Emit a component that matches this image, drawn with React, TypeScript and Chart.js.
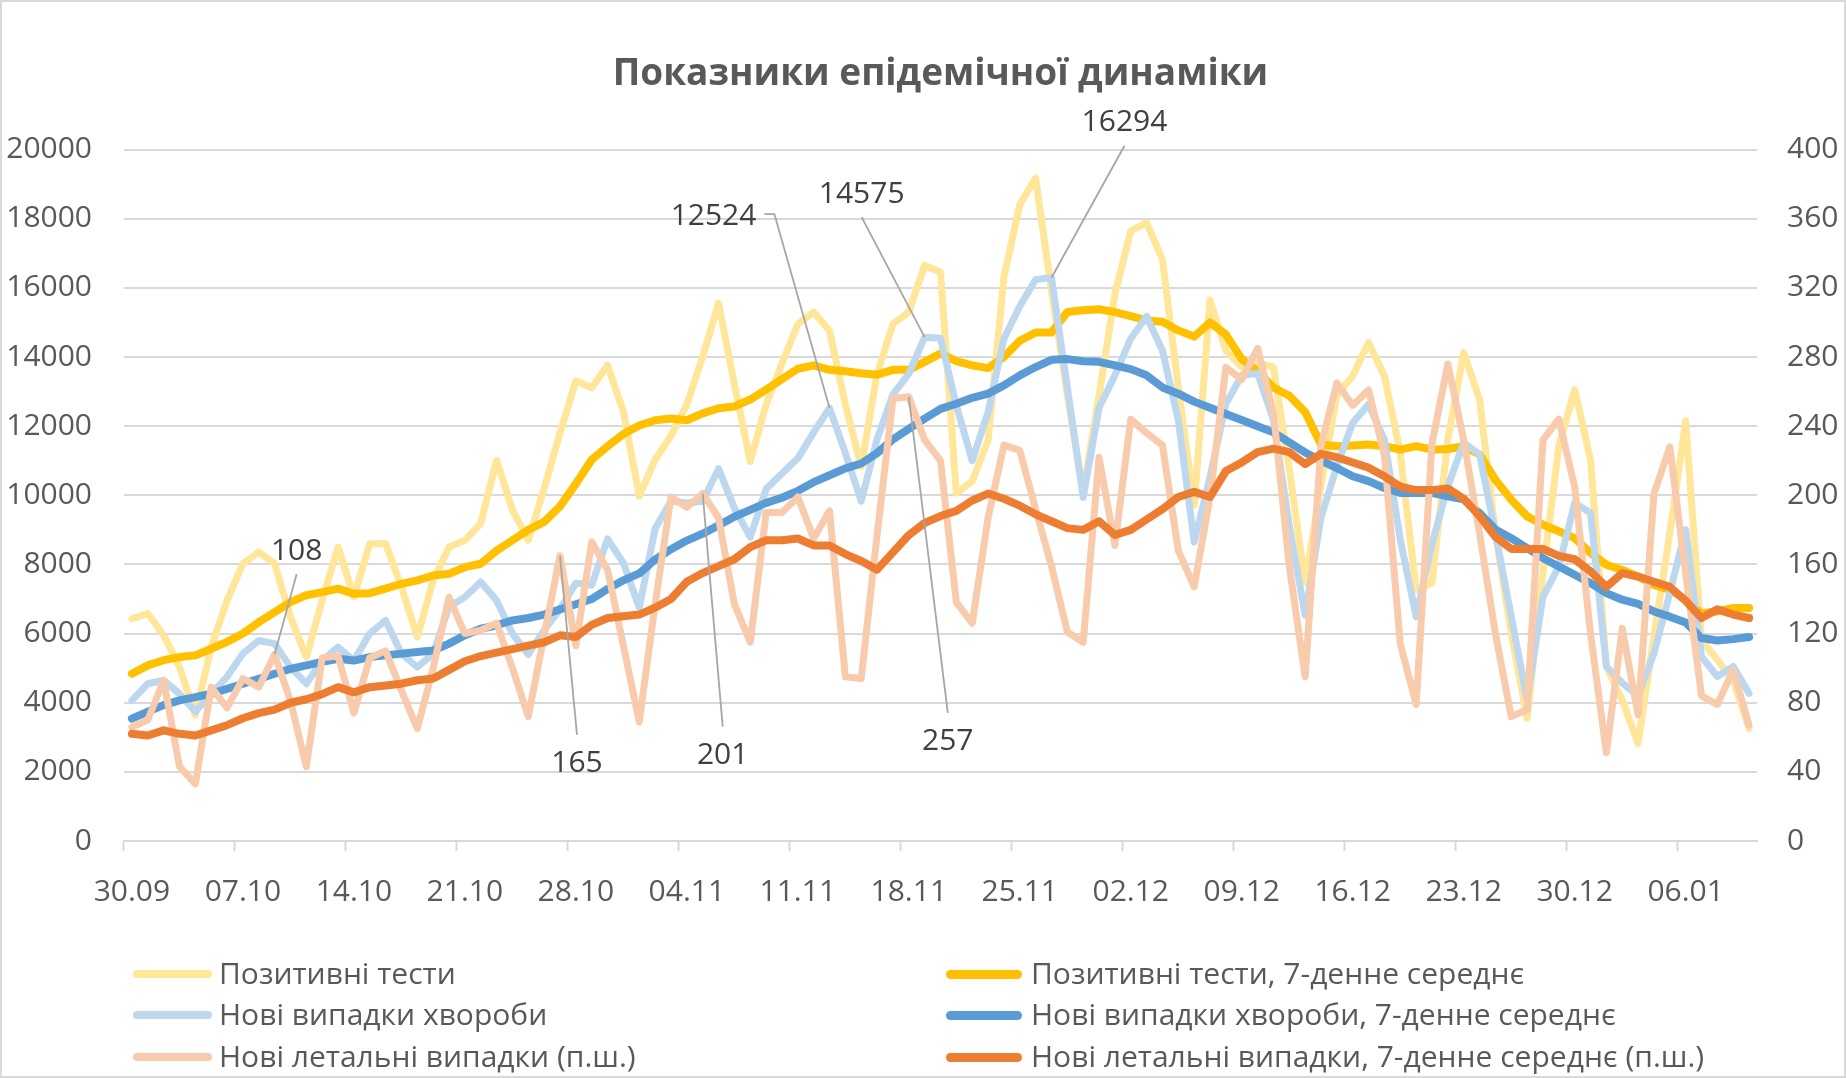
import React, { useEffect, useRef } from 'react';
import { Chart, registerables } from 'chart.js';

Chart.register(...registerables);

const FONT = '"Open Sans", "Noto Sans", "DejaVu Sans", sans-serif';
const TEXT_COLOR = '#595959';
const GRID_COLOR = '#D9D9D9';

const chartTitle = 'Показники епідемічної динаміки';

const dates = [
  '30.09',
  '01.10', '02.10', '03.10', '04.10', '05.10', '06.10', '07.10', '08.10', '09.10', '10.10',
  '11.10', '12.10', '13.10', '14.10', '15.10', '16.10', '17.10', '18.10', '19.10', '20.10',
  '21.10', '22.10', '23.10', '24.10', '25.10', '26.10', '27.10', '28.10', '29.10', '30.10', '31.10',
  '01.11', '02.11', '03.11', '04.11', '05.11', '06.11', '07.11', '08.11', '09.11', '10.11',
  '11.11', '12.11', '13.11', '14.11', '15.11', '16.11', '17.11', '18.11', '19.11', '20.11',
  '21.11', '22.11', '23.11', '24.11', '25.11', '26.11', '27.11', '28.11', '29.11', '30.11',
  '01.12', '02.12', '03.12', '04.12', '05.12', '06.12', '07.12', '08.12', '09.12', '10.12',
  '11.12', '12.12', '13.12', '14.12', '15.12', '16.12', '17.12', '18.12', '19.12', '20.12',
  '21.12', '22.12', '23.12', '24.12', '25.12', '26.12', '27.12', '28.12', '29.12', '30.12', '31.12',
  '01.01', '02.01', '03.01', '04.01', '05.01', '06.01', '07.01', '08.01', '09.01', '10.01',
];

// Позитивні тести (left axis)
const positiveTests = [
  6430, 6580, 5950, 5030, 3640, 5600, 6960, 8020, 8360, 8020,
  6480, 5320, 6960, 8500, 7060, 8600, 8600, 7350, 5900, 7540,
  8500, 8700, 9180, 11010, 9570, 8700, 10200, 11800, 13310, 13110,
  13760, 12420, 9980, 11030, 11720, 12620, 14010, 15550, 13210, 10980,
  12620, 13810, 14955, 15300, 14760, 12620, 10830, 13510, 14955, 15300,
  16650, 16450, 10060, 10410, 11590, 16300, 18410, 19180, 15900, 12900,
  10100, 12880, 15820, 17650, 17880, 16820, 13120, 9710, 15650, 14180,
  13710, 13830, 13710, 10770, 7470, 10300, 12900, 13450, 14420, 13450,
  11230, 7270, 7460, 11610, 14130, 12770, 8910, 6010, 3550, 7750,
  11420, 13060, 11030, 5050, 4080, 2820, 5910, 8910, 12150, 5820,
  5240, 4660, 3260,
];

// Позитивні тести, 7-денне середнє (left axis)
const positiveTests7d = [
  4840, 5080, 5230, 5320, 5370, 5560, 5760, 6000, 6330, 6620,
  6910, 7110, 7200, 7300, 7150, 7170, 7300, 7440, 7540, 7680,
  7730, 7920, 8020, 8400, 8700, 9000, 9230, 9680, 10330, 11030,
  11420, 11770, 12020, 12170, 12220, 12170, 12370, 12520, 12570, 12770,
  13060, 13360, 13660, 13760, 13630, 13590, 13530, 13490, 13630, 13630,
  13860, 14100, 13880, 13760, 13680, 14000, 14470, 14710, 14710, 15300,
  15350, 15380, 15300, 15180, 15060, 15020, 14770, 14590, 15000, 14650,
  13940, 13590, 13120, 12880, 12410, 11470, 11420, 11440, 11470, 11420,
  11320, 11420, 11320, 11340, 11420, 11180, 10450, 9870, 9390, 9150,
  8960, 8760, 8330, 7990, 7840, 7650, 7410, 7270, 6980, 6590,
  6640, 6740, 6740,
];

// Нові випадки хвороби (left axis)
const newCases = [
  4070, 4550, 4650, 4260, 3740, 4260, 4750, 5420, 5800, 5710,
  5030, 4550, 5220, 5610, 5220, 6000, 6380, 5420, 5030, 5420,
  6770, 7060, 7490, 6960, 6000, 5400, 6100, 6700, 7460, 7400,
  8740, 8040, 6750, 9040, 9830, 9780, 9830, 10770, 9630, 8790,
  10180, 10630, 11070, 11820, 12524, 11220, 9830, 11620, 12920, 13510,
  14575, 14540, 12600, 11000, 12410, 14530, 15470, 16240, 16294, 13120,
  9940, 12530, 13470, 14530, 15180, 14180, 12180, 8650, 10530, 12650,
  13470, 13530, 12180, 9120, 6530, 9360, 10840, 12100, 12630, 11610,
  8720, 6490, 8600, 10260, 11520, 11180, 8910, 6490, 4080, 7070,
  7940, 9780, 9490, 5050, 4570, 4200, 5430, 7170, 9010, 5330,
  4760, 5050, 4270,
];

// Нові випадки хвороби, 7-денне середнє (left axis)
const newCases7d = [
  3540, 3740, 3930, 4070, 4160, 4260, 4400, 4550, 4690, 4840,
  4980, 5080, 5180, 5270, 5220, 5320, 5370, 5420, 5470, 5510,
  5710, 5950, 6140, 6240, 6380, 6450, 6550, 6700, 6850, 7000,
  7290, 7540, 7740, 8140, 8440, 8690, 8890, 9130, 9380, 9580,
  9780, 9930, 10130, 10380, 10580, 10780, 10920, 11220, 11620, 11920,
  12220, 12500, 12650, 12820, 12940, 13180, 13470, 13710, 13920, 13940,
  13880, 13860, 13760, 13650, 13470, 13120, 12940, 12710, 12530, 12350,
  12180, 12000, 11820, 11530, 11240, 11000, 10790, 10550, 10410, 10210,
  10070, 10070, 10070, 9970, 9880, 9490, 9010, 8760, 8470, 8180,
  7940, 7700, 7460, 7170, 6980, 6860, 6640, 6490, 6320, 5870,
  5800, 5840, 5900,
];

// Нові летальні випадки (right axis)
const newDeaths = [
  66, 70, 93, 43, 33, 89, 77, 94, 89, 108,
  81, 43, 106, 107, 74, 106, 110, 87, 65, 100,
  141, 120, 122, 126, 100, 72, 119, 165, 113, 173,
  157, 113, 69, 137, 199, 193, 201, 187, 137, 115,
  190, 190, 199, 175, 191, 95, 94, 177, 256, 257,
  232, 220, 138, 126, 187, 229, 226, 192, 159, 121,
  115, 222, 171, 244, 236, 229, 168, 147, 199, 274,
  267, 285, 248, 159, 95, 229, 265, 252, 261, 223,
  114, 79, 230, 276, 232, 178, 120, 72, 76, 232,
  244, 205, 120, 51, 123, 73, 201, 228, 155, 84,
  79, 99, 67,
];

// Нові летальні випадки, 7-денне середнє (right axis)
const newDeaths7d = [
  62, 61, 64, 62, 61, 64, 67, 71, 74, 76,
  80, 82, 85, 89, 86, 89, 90, 91, 93, 94,
  99, 104, 107, 109, 111, 113, 115, 119, 118, 125,
  129, 130, 131, 135, 140, 150, 155, 159, 163, 170,
  174, 174, 175, 171, 171, 166, 162, 157, 167, 177,
  184, 188, 191, 197, 201, 198, 194, 189, 185, 181,
  180, 185, 177, 180, 186, 192, 199, 202, 199, 214,
  219, 225, 227, 225, 218, 224, 222, 219, 216, 211,
  205, 203, 203, 204, 198, 188, 176, 169, 169, 169,
  165, 163, 156, 147, 155, 153, 150, 147, 139, 129,
  134, 131, 129,
];

const leftAxisRange = { min: 0, max: 20000, step: 2000 };
const rightAxisRange = { min: 0, max: 400, step: 40 };
const xLabelEvery = 7;

const seriesLabels = [
  'Позитивні тести',
  'Позитивні тести, 7-денне середнє',
  'Нові випадки хвороби',
  'Нові випадки хвороби, 7-денне середнє',
  'Нові летальні випадки (п.ш.)',
  'Нові летальні випадки, 7-денне середнє (п.ш.)',
];
const seriesColors = ['#FFE699', '#FFC000', '#BDD7EE', '#5B9BD5', '#F8CBAD', '#ED7D31'];

// data callouts: dataset index, point index, label offset (px) and leader attachment
const callouts = [
  { ds: 4, index: 9, dx: 22, dy: -105, attach: 'bottom' },
  { ds: 4, index: 27, dx: 17, dy: 206, attach: 'top' },
  { ds: 4, index: 36, dx: 20, dy: 260, attach: 'top' },
  { ds: 4, index: 49, dx: 39, dy: 343, attach: 'top' },
  { ds: 2, index: 44, dx: -116, dy: -194, attach: 'right' },
  { ds: 2, index: 50, dx: -63, dy: -145, attach: 'bottom' },
  { ds: 2, index: 58, dx: 73, dy: -157, attach: 'bottom' },
];

const calloutPlugin = {
  id: 'callouts',
  afterDatasetsDraw(chart: any) {
    const ctx = chart.ctx;
    ctx.save();
    ctx.font = `30px ${FONT}`;
    callouts.forEach((c) => {
      const meta = chart.getDatasetMeta(c.ds);
      const el = meta.data[c.index];
      if (!el) return;
      const px = el.x;
      const py = el.y;
      const cx = px + c.dx;
      const cy = py + c.dy;
      const text = String(chart.data.datasets[c.ds].data[c.index]);
      const w = ctx.measureText(text).width;
      ctx.strokeStyle = '#A6A6A6';
      ctx.lineWidth = 1.8;
      ctx.beginPath();
      if (c.attach === 'right') {
        const sx = cx + w / 2 + 8;
        ctx.moveTo(sx, cy);
        ctx.lineTo(sx + 10, cy);
        ctx.lineTo(px, py);
      } else if (c.attach === 'bottom') {
        ctx.moveTo(cx, cy + 25);
        ctx.lineTo(px, py);
      } else {
        ctx.moveTo(cx, cy - 27);
        ctx.lineTo(px, py);
      }
      ctx.stroke();
      ctx.fillStyle = '#404040';
      ctx.textAlign = 'center';
      ctx.textBaseline = 'middle';
      ctx.fillText(text, cx, cy + 2);
    });
    ctx.restore();
  },
};

const seriesWidths = [7, 8, 7, 8, 7, 8];
const legendRows = [974, 1015, 1057];
const legendCols = [
  { lineX: 133, lineW: 79, textX: 219 },
  { lineX: 946, lineW: 76, textX: 1031 },
];

export default function App() {
  const canvasRef = useRef<HTMLCanvasElement | null>(null);

  useEffect(() => {
    if (!canvasRef.current) return;
    const seriesData = [positiveTests, positiveTests7d, newCases, newCases7d, newDeaths, newDeaths7d];
    const axisFor = ['y', 'y', 'y', 'y', 'y1', 'y1'];
    const orders = [6, 5, 4, 3, 2, 1];
    const tickFont = { family: FONT, size: 30 };

    const chart = new Chart(canvasRef.current, {
      type: 'line',
      data: {
        labels: dates,
        datasets: seriesData.map((d, i) => ({
          label: seriesLabels[i],
          data: d,
          yAxisID: axisFor[i],
          borderColor: seriesColors[i],
          backgroundColor: seriesColors[i],
          borderWidth: seriesWidths[i],
          pointRadius: 0,
          pointHoverRadius: 0,
          tension: 0,
          fill: false,
          borderJoinStyle: 'round' as const,
          borderCapStyle: 'round' as const,
          order: orders[i],
        })),
      },
      options: {
        animation: false,
        responsive: false,
        maintainAspectRatio: false,
        events: [],
        layout: { padding: { left: 0, right: 0, top: 0, bottom: 157 } },
        plugins: {
          legend: { display: false },
          tooltip: { enabled: false },
          title: {
            display: true,
            text: chartTitle,
            color: TEXT_COLOR,
            fullSize: false,
            font: { family: FONT, size: 37, weight: 'bold' },
            padding: { top: 52, bottom: 53.2 },
          },
        },
        scales: {
          x: {
            type: 'category',
            offset: true,
            grid: {
              offset: true,
              drawOnChartArea: false,
              drawTicks: true,
              tickLength: 10,
              tickWidth: 2,
              tickColor: (ctx: any) => (ctx.index % xLabelEvery === 0 ? GRID_COLOR : 'rgba(0,0,0,0)'),
            },
            border: { display: true, color: GRID_COLOR, width: 2 },
            ticks: {
              autoSkip: false,
              maxRotation: 0,
              minRotation: 0,
              padding: 23,
              color: TEXT_COLOR,
              font: tickFont,
              callback: (_v: any, i: number) => (i % xLabelEvery === 0 ? dates[i] : ''),
            },
            afterFit: (scale: any) => {
              scale.height = 80;
            },
          },
          y: {
            position: 'left',
            min: leftAxisRange.min,
            max: leftAxisRange.max,
            ticks: {
              stepSize: leftAxisRange.step,
              padding: 32,
              color: TEXT_COLOR,
              font: tickFont,
              callback: (v: any) => String(v),
            },
            grid: { color: GRID_COLOR, lineWidth: 2, drawTicks: false },
            border: { display: false },
            afterFit: (scale: any) => {
              scale.width = 124;
            },
          },
          y1: {
            position: 'right',
            min: rightAxisRange.min,
            max: rightAxisRange.max,
            ticks: {
              stepSize: rightAxisRange.step,
              padding: 30,
              color: TEXT_COLOR,
              font: tickFont,
              callback: (v: any) => String(v),
            },
            grid: { drawOnChartArea: false, drawTicks: false },
            border: { display: false },
            afterFit: (scale: any) => {
              scale.width = 89;
            },
          },
        },
      } as any,
      plugins: [calloutPlugin],
    });
    return () => chart.destroy();
  }, []);

  return (
    <div
      style={{
        position: 'absolute',
        left: 0,
        top: 0,
        width: 1846,
        height: 1078,
        background: '#ffffff',
        fontFamily: FONT,
        overflow: 'hidden',
      }}
    >
      <canvas ref={canvasRef} width={1846} height={1078} style={{ position: 'absolute', left: 0, top: 0, width: 1846, height: 1078 }} />
      {seriesLabels.map((label, i) => {
        const col = legendCols[i % 2];
        const rowY = legendRows[Math.floor(i / 2)];
        const th = seriesWidths[i] + 1;
        return (
          <React.Fragment key={label}>
            <div
              style={{
                position: 'absolute',
                left: col.lineX,
                top: rowY - th / 2,
                width: col.lineW,
                height: th,
                borderRadius: th / 2,
                background: seriesColors[i],
              }}
            />
            <div
              style={{
                position: 'absolute',
                left: col.textX,
                top: rowY - 19,
                fontSize: 30,
                lineHeight: '36px',
                color: TEXT_COLOR,
                whiteSpace: 'nowrap',
                fontFamily: FONT,
              }}
            >
              {label}
            </div>
          </React.Fragment>
        );
      })}
      <div
        style={{
          position: 'absolute',
          left: 0,
          top: 0,
          width: 1846,
          height: 1078,
          boxSizing: 'border-box',
          border: `2px solid ${GRID_COLOR}`,
          pointerEvents: 'none',
        }}
      />
    </div>
  );
}
